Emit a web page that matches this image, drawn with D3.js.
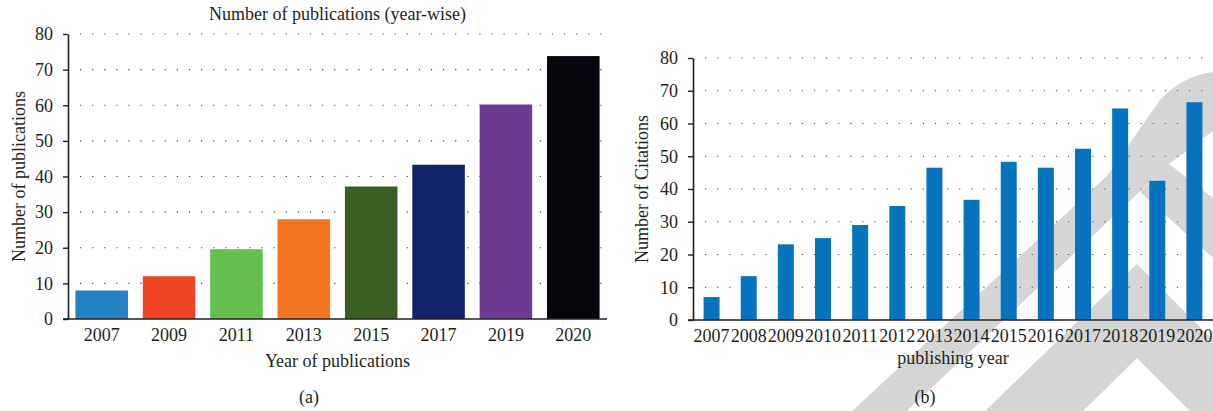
<!DOCTYPE html>
<html lang="en">
  <head>
    <meta charset="utf-8" />
    <script src="https://d3js.org/d3.v7.min.js"></script>
    <style>
      body { margin: 0; background: #fff; }
      text { font-family: "Liberation Serif", "DejaVu Serif", serif; fill: #231f20; }
    </style>
  </head>
  <body>
    <svg id="chart" width="1213" height="411"></svg>
    <script>
    // (a) publications per year
    var pubYears = ["2007", "2009", "2011", "2013", "2015", "2017", "2019", "2020"];
    var pubCounts = [8, 12, 19.6, 28, 37.2, 43.3, 60.2, 73.8];
    var pubColors = ["#2583c3", "#ef4326", "#64bf4e", "#f47521", "#3b5f23", "#13246a", "#6f3994", "#05060b"];

    // (b) citations per year
    var citYears = ["2007", "2008", "2009", "2010", "2011", "2012", "2013", "2014", "2015", "2016", "2017", "2018", "2019", "2020"];
    var citCounts = [7, 13.4, 23.1, 25, 29, 34.8, 46.5, 36.7, 48.3, 46.5, 52.3, 64.6, 42.5, 66.5];

    var yTicks = [0, 10, 20, 30, 40, 50, 60, 70, 80];

    var svg = d3.select("#chart");

    // grey watermark behind panel (b)
    var wm = svg.append("g").attr("fill", "#d5d5d5");
    wm.append("path")
      .attr("d", "M1213,72 Q1182,76 1160,100 L1107,176 L852,411 L907,411 L1169,164 L1213,131 Z");
    wm.append("path")
      .attr("d", "M1169,164 L1213,198 L1213,258 L1140,192 Z");
    wm.append("path")
      .attr("d", "M1137,264 L1213,340 L1213,411 L1190,411 L1137,358 L1083,411 L985,411 Z");

    function drawPanel(opts) {
      var g = svg.append("g");
      var x = d3.scaleBand()
        .domain(opts.years)
        .range([opts.left, opts.right])
        .paddingInner(opts.padIn)
        .paddingOuter(opts.padOut);
      var y = d3.scaleLinear().domain([0, 80]).range([opts.bottom, opts.top]);

      // dotted grid
      g.append("g").selectAll("line")
        .data(yTicks.slice(1))
        .enter().append("line")
          .attr("x1", opts.left + 12)
          .attr("x2", opts.right)
          .attr("y1", function(d) { return y(d); })
          .attr("y2", function(d) { return y(d); })
          .attr("stroke", "#444")
          .attr("stroke-width", 1.2)
          .attr("stroke-dasharray", "1.2,10.9");

      // bars
      g.append("g").selectAll("rect")
        .data(opts.values)
        .enter().append("rect")
          .attr("x", function(d, i) { return x(opts.years[i]); })
          .attr("width", x.bandwidth())
          .attr("y", function(d) { return y(d); })
          .attr("height", function(d) { return opts.bottom - y(d); })
          .attr("fill", function(d, i) { return opts.colors[i % opts.colors.length]; });

      // axes
      var xAxis = g.append("g")
        .attr("transform", "translate(0," + opts.bottom + ")")
        .call(d3.axisBottom(x).tickSize(0).tickPadding(9));
      xAxis.select(".domain").attr("stroke", "#231f20").attr("stroke-width", 1.6)
        .attr("d", "M" + (opts.left - 5) + ",0H" + opts.right);
      xAxis.selectAll("text").style("font-size", "18px");

      var yAxis = g.append("g")
        .attr("transform", "translate(" + opts.left + ",0)")
        .call(d3.axisLeft(y).tickValues(yTicks).tickSize(5).tickSizeOuter(0).tickPadding(10));
      yAxis.select(".domain").attr("stroke", "#231f20").attr("stroke-width", 1.6);
      yAxis.selectAll(".tick line").attr("stroke", "#231f20").attr("stroke-width", 1.4);
      yAxis.selectAll("text").style("font-size", "18px");

      // labels
      g.append("text")
        .attr("x", (opts.left + opts.right) / 2)
        .attr("y", opts.xLabelY)
        .attr("text-anchor", "middle")
        .style("font-size", "18px")
        .text(opts.xLabel);
      g.append("text")
        .attr("transform", "translate(" + opts.yLabelX + "," + (opts.top + opts.bottom) / 2 + ") rotate(-90)")
        .attr("text-anchor", "middle")
        .style("font-size", "18px")
        .text(opts.yLabel);
      g.append("text")
        .attr("x", opts.capX)
        .attr("y", 403)
        .attr("text-anchor", "middle")
        .style("font-size", "18px")
        .text(opts.caption);
      if (opts.title) {
        g.append("text")
          .attr("x", (opts.left + opts.right) / 2)
          .attr("y", 20)
          .attr("text-anchor", "middle")
          .style("font-size", "18px")
          .text(opts.title);
      }
    }

    drawPanel({
      years: pubYears, values: pubCounts, colors: pubColors,
      left: 68, right: 607, top: 34, bottom: 319,
      padIn: 0.22, padOut: 0.11,
      title: "Number of publications (year-wise)",
      xLabel: "Year of publications", xLabelY: 367,
      yLabel: "Number of publications", yLabelX: 25,
      caption: "(a)", capX: 309
    });

    drawPanel({
      years: citYears, values: citCounts, colors: ["#0573be"],
      left: 693, right: 1213, top: 58, bottom: 320,
      padIn: 0.57, padOut: 0.285,
      xLabel: "publishing year", xLabelY: 364,
      yLabel: "Number of Citations", yLabelX: 648,
      caption: "(b)", capX: 925
    });
    </script>
  </body>
</html>
